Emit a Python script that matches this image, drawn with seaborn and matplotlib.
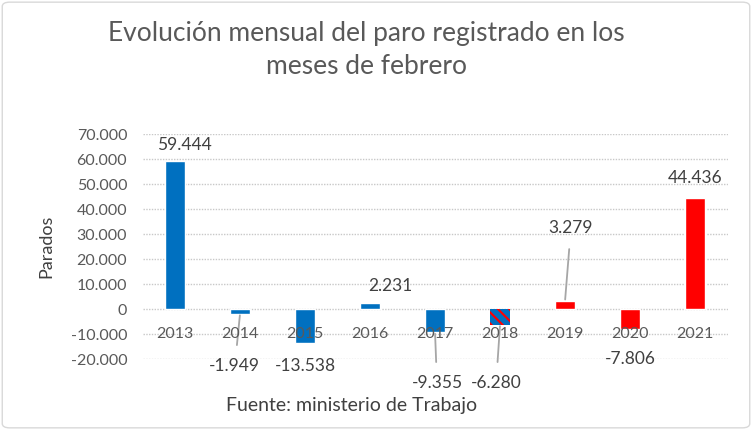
import matplotlib.pyplot as plt
import numpy as np
import pandas as pd
import seaborn as sns
from matplotlib.patches import FancyBboxPatch

sns.set_theme(style="white")
plt.rcParams["font.family"] = ["Lato", "DejaVu Sans"]
plt.rcParams["hatch.linewidth"] = 1.5

years = ["2013", "2014", "2015", "2016", "2017", "2018", "2019", "2020", "2021"]
parados = [59444, -1949, -13538, 2231, -9355, -6280, 3279, -7806, 44436]
colores = ["#0070C0"] * 6 + ["#FF0000"] * 3
# posicion de las etiquetas (valor en el eje y) y si llevan linea guia
label_y = [65600, -22800, -22800, 9200, -29600, -29600, 32400, -20000, 52400]
label_dx = [0.15, -0.08, 0, 0.32, 0.03, -0.06, 0.09, 0, 0]
guia = [False, True, False, False, True, True, True, False, False]

df = pd.DataFrame({"Año": years, "Parados": parados})

fig = plt.figure(figsize=(7.52, 4.30), dpi=100)
ax = fig.add_axes([0.1895, 0.165, 0.778, 0.523])

sns.barplot(data=df, x="Año", y="Parados", hue="Año", palette=colores,
            width=0.31, legend=False, saturation=1, ax=ax)

# 2018 con rayas rojas
p18 = ax.patches[5]
p18.set_hatch("\\\\\\")
p18.set_edgecolor("#FF0000")
p18.set_linewidth(0)

ax.set_ylim(-20000, 70000)
ax.set_yticks(np.arange(-20000, 70001, 10000))
ax.set_yticklabels([f"{v:,}".replace(",", ".") for v in range(-20000, 70001, 10000)],
                   fontsize=11.5, color="#595959")
ax.grid(axis="y", color="#c8c8c8", linestyle=(0, (1, 1)), linewidth=1)
ax.set_axisbelow(True)
for s in ax.spines.values():
    s.set_visible(False)
ax.tick_params(axis="x", length=0, labelbottom=False)
ax.tick_params(axis="y", length=0, pad=11)
ax.set_xlabel("")
ax.set_ylabel("Parados", fontsize=13, color="#404040")
ax.yaxis.set_label_coords(-0.15, 0.5)

# años a la altura de -10.000, por encima de las barras
for i, y in enumerate(years):
    ax.text(i, -10000, y, ha="center", va="center", fontsize=11.5,
            color="#595959", zorder=5)

for i, v in enumerate(parados):
    txt = f"{v:,}".replace(",", ".")
    if guia[i]:
        ax.annotate(txt, xy=(i, v), xytext=(i + label_dx[i], label_y[i]),
                    ha="center", va="center", fontsize=12.5, color="#404040",
                    arrowprops=dict(arrowstyle="-", color="#a6a6a6", lw=1.3,
                                    shrinkA=7, shrinkB=1))
    else:
        ax.text(i + label_dx[i], label_y[i], txt, ha="center", va="center",
                fontsize=12.5, color="#404040")

fig.text(0.487, 0.884, "Evolución mensual del paro registrado en los\nmeses de febrero",
         ha="center", va="center", fontsize=19, color="#595959", linespacing=1.4)
fig.text(0.467, 0.058, "Fuente: ministerio de Trabajo", ha="center", va="center",
         fontsize=14, color="#404040")

fig.patches.append(FancyBboxPatch((0.003, 0.005), 0.994, 0.99, boxstyle="round,pad=0,rounding_size=0.01",
                                  transform=fig.transFigure, facecolor="none",
                                  edgecolor="#d9d9d9", linewidth=1))

fig.savefig("out.png", dpi=100)
